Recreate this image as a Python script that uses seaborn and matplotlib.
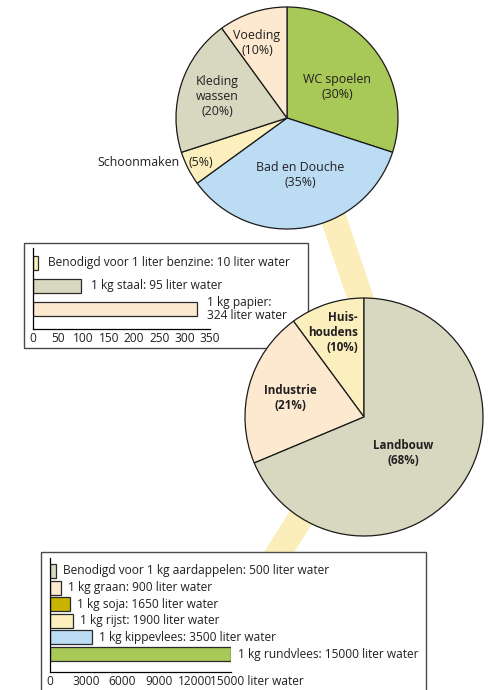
import matplotlib
matplotlib.use('Agg')
import matplotlib.pyplot as plt
import seaborn as sns
from matplotlib.patches import Rectangle
from matplotlib.lines import Line2D
from matplotlib.transforms import ScaledTranslation

# huishoudelijk watergebruik (bovenste taart)
home_labels = ['WC spoelen', 'Bad en Douche', 'Schoonmaken', 'Kleding\nwassen', 'Voeding']
home_pct = [30, 35, 5, 20, 10]
home_colors = ['#a8c858', '#bcdcf4', '#fbefbd', '#d8d8c0', '#fde9cf']

# watergebruik per sector (middelste taart)
sector_labels = ['Huis-\nhoudens', 'Industrie', 'Landbouw']
sector_pct = [10, 21, 68]
sector_colors = ['#fbefbd', '#fde9cf', '#d8d8c0']

# industrie
ind_items = ['Benodigd voor 1 liter benzine: 10 liter water',
             '1 kg staal: 95 liter water',
             '1 kg papier:\n324 liter water']
ind_water = [10, 95, 324]
ind_colors = ['#fbefbd', '#d8d8c0', '#fde9cf']
ind_ticks = [0, 50, 100, 150, 200, 250, 300, 350]

# landbouw
farm_items = ['Benodigd voor 1 kg aardappelen: 500 liter water',
              '1 kg graan: 900 liter water',
              '1 kg soja: 1650 liter water',
              '1 kg rijst: 1900 liter water',
              '1 kg kippevlees: 3500 liter water',
              '1 kg rundvlees: 15000 liter water']
farm_water = [500, 900, 1650, 1900, 3500, 15000]
farm_colors = ['#d8d8c0', '#fde9cf', '#c8b400', '#fbefbd', '#bcdcf4', '#a8c858']
farm_ticks = [0, 3000, 6000, 9000, 12000, 15000]

sns.set_style('white')
plt.rcParams['font.family'] = ['Open Sans', 'DejaVu Sans']

W, H = 488, 690
fig = plt.figure(figsize=(W / 100, H / 100), dpi=100)
TXT = '#231f20'


def px_axes(left, top, width, height):
    # pixel box (from top-left) -> figure axes
    return fig.add_axes([left / W, 1 - (top + height) / H, width / W, height / H])


def px(x, y):
    return x / W, 1 - y / H


# gele verbindingsband
band = dict(color='#fbeebb', linewidth=18.5, solid_capstyle='butt', zorder=-3)
(x0, y0), (x1, y1) = px(329, 205), px(395, 400)
fig.add_artist(Line2D([x0, x1], [y0, y1], transform=fig.transFigure, **band))
(x0, y0), (x1, y1) = px(364, 417), px(268, 570)
fig.add_artist(Line2D([x0, x1], [y0, y1], transform=fig.transFigure, **band))

# kaders
for left, top, right, bottom in [(24, 243, 308, 348), (41, 552, 426, 720)]:
    fig.add_artist(Rectangle(px(left, bottom), (right - left) / W, (bottom - top) / H,
                             transform=fig.transFigure, facecolor='white',
                             edgecolor='#4a4a4a', linewidth=1.0, zorder=-1))

wedge_style = dict(edgecolor='#1a1a1a', linewidth=0.9)

# bovenste taart
ax = px_axes(176, 7, 222, 222)
ax.pie(home_pct, colors=home_colors, startangle=90, counterclock=False,
       wedgeprops=wedge_style)
ax.set_xlim(-1, 1)
ax.set_ylim(-1, 1)
ax.set_aspect('equal')
ax.set_facecolor('none')
home_pos = [(0.45, 0.28), (0.12, -0.51), None, (-0.63, 0.19), (-0.27, 0.68)]
for lab, pct, pos in zip(home_labels, home_pct, home_pos):
    if pos is None:
        continue
    ax.text(pos[0], pos[1], f'{lab}\n({pct}%)', ha='center', va='center',
            fontsize=8.9, color=TXT, linespacing=1.2)
ax.text(-0.78, -0.40, f'({home_pct[2]}%)', ha='center', va='center', fontsize=8.9, color=TXT)
ax.text(-0.97, -0.40, home_labels[2], ha='right', va='center', fontsize=8.9, color=TXT,
        clip_on=False)

# middelste taart
ax = px_axes(245, 298, 238, 238)
ax.pie(sector_pct, colors=sector_colors, startangle=90, counterclock=True,
       wedgeprops=wedge_style)
ax.set_xlim(-1, 1)
ax.set_ylim(-1, 1)
ax.set_aspect('equal')
ax.set_facecolor('none')
bold = dict(fontsize=8.4, fontweight='bold', color=TXT, linespacing=1.2, va='center')
ax.text(-0.05, 0.71, f'{sector_labels[0]}\n({sector_pct[0]}%)', ha='right',
        multialignment='right', **bold)
ax.text(-0.62, 0.16, f'{sector_labels[1]}\n({sector_pct[1]}%)', ha='center', **bold)
ax.text(0.33, -0.30, f'{sector_labels[2]}\n({sector_pct[2]}%)', ha='center', **bold)


def bar_panel(ax, items, water, colors, ticks, height, ylim, fs, offset):
    sns.barplot(x=water, y=items, hue=items, palette=colors, legend=False,
                orient='h', width=height, saturation=1, edgecolor='#2a2a2a',
                linewidth=0.9, ax=ax)
    ax.set_ylim(*ylim)
    ax.set_xlim(ticks[0], ticks[-1])
    ax.set_xticks(ticks)
    ax.set_yticks([])
    ax.set_ylabel('')
    ax.set_facecolor('none')
    for side in ['top', 'right']:
        ax.spines[side].set_visible(False)
    for side in ['left', 'bottom']:
        ax.spines[side].set_color('black')
        ax.spines[side].set_linewidth(0.9)
    ax.tick_params(axis='x', direction='in', length=4, width=0.9, color='black',
                   labelsize=fs, pad=2, labelcolor=TXT)
    for i, (lab, val) in enumerate(zip(items, water)):
        ax.annotate(lab, xy=(val, i), xytext=(offset, 0), textcoords='offset points',
                    ha='left', va='center', fontsize=fs, color=TXT,
                    linespacing=0.95, annotation_clip=False)


# industrie
ax = px_axes(33, 248, 177, 81)
bar_panel(ax, ind_items, ind_water, ind_colors, ind_ticks, 0.62, (2.87, -0.65), 8.6, 7)

# landbouw
ax = px_axes(50, 558, 181, 114)
bar_panel(ax, farm_items, farm_water, farm_colors, farm_ticks, 0.85, (6.08, -0.78), 8.6, 5)
labels = [str(t) for t in farm_ticks]
labels[-1] = '15000 liter water'
ax.set_xticklabels(labels)
last = ax.get_xticklabels()[-1]
last.set_horizontalalignment('left')
last.set_transform(last.get_transform() + ScaledTranslation(-21 / 100, 0, fig.dpi_scale_trans))

fig.savefig('out.png', dpi=100)
